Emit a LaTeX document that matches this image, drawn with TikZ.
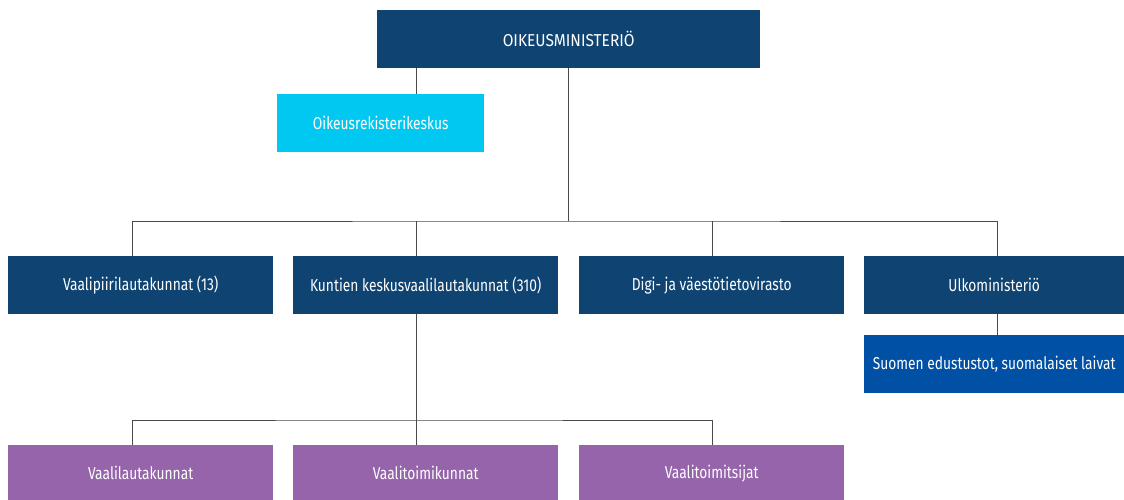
\documentclass[tikz,border=0pt]{standalone}
\usepackage{fontspec}
\setmainfont{Fira Sans}[FakeStretch=0.8]
\newfontfamily\capsfont{Fira Sans}[FakeStretch=0.9]
\definecolor{dkblue}{HTML}{0F4472}
\definecolor{cyanbox}{HTML}{00C8F0}
\definecolor{midblue}{HTML}{0050A6}
\definecolor{purplebox}{HTML}{9664AA}
\definecolor{linegray}{HTML}{4A4A4A}
\tikzset{
  box/.style={draw=none, text=white, inner sep=0pt, anchor=north west,
    font=\fontsize{17.2}{19}\selectfont, align=center},
  conn/.style={draw=linegray, line width=0.9pt}
}
\begin{document}
\begin{tikzpicture}[x=1pt,y=-1pt]
\useasboundingbox (0,0) rectangle (1124,500);
\node[box, fill=dkblue, minimum width=383pt, minimum height=58pt, font=\capsfont\fontsize{17.2}{19}\selectfont] (om) at (377,10) {OIKEUSMINISTERIÖ};
\node[box, fill=cyanbox, minimum width=207pt, minimum height=58pt] (ork) at (277,94) {Oikeusrekisterikeskus};
\node[box, fill=dkblue, minimum width=265pt, minimum height=58pt] (vpl) at (8,256) {Vaalipiirilautakunnat (13)};
\node[box, fill=dkblue, minimum width=265pt, minimum height=58pt] (kkv) at (293,256) {Kuntien keskusvaalilautakunnat (310)};
\node[box, fill=dkblue, minimum width=265pt, minimum height=58pt] (dvv) at (579,256) {Digi- ja väestötietovirasto};
\node[box, fill=dkblue, minimum width=260pt, minimum height=58pt] (um) at (864,256) {Ulkoministeriö};
\node[box, fill=midblue, minimum width=260pt, minimum height=58pt] (se) at (864,335) {Suomen edustustot, suomalaiset laivat};
\node[box, fill=purplebox, minimum width=265pt, minimum height=56pt] (vlk) at (8,445) {Vaalilautakunnat};
\node[box, fill=purplebox, minimum width=265pt, minimum height=56pt] (vtk) at (293,445) {Vaalitoimikunnat};
\node[box, fill=purplebox, minimum width=265pt, minimum height=56pt] (vts) at (579,445) {Vaalitoimitsijat};
\coordinate (bar1) at (568,221);
\coordinate (bar2) at (416,420);
% top connectors
\draw[conn] (om.south -| 416,0) -- (ork.north -| 416,0);
\draw[conn] (om.south -| bar1) -- (bar1);
\draw[conn] (vpl.north -| 132,0) |- (bar1) -| (um.north -| 997,0);
\draw[conn] (kkv.north -| 416,0) -- (416,221);
\draw[conn] (dvv.north -| 712,0) -- (712,221);
\draw[conn] (um.south -| 997,0) -- (se.north -| 997,0);
% lower connectors
\draw[conn] (kkv.south -| bar2) -- (vtk.north -| bar2);
\draw[conn] (vlk.north -| 132,0) |- (bar2) -| (vts.north -| 712,0);
\end{tikzpicture}
\end{document}
